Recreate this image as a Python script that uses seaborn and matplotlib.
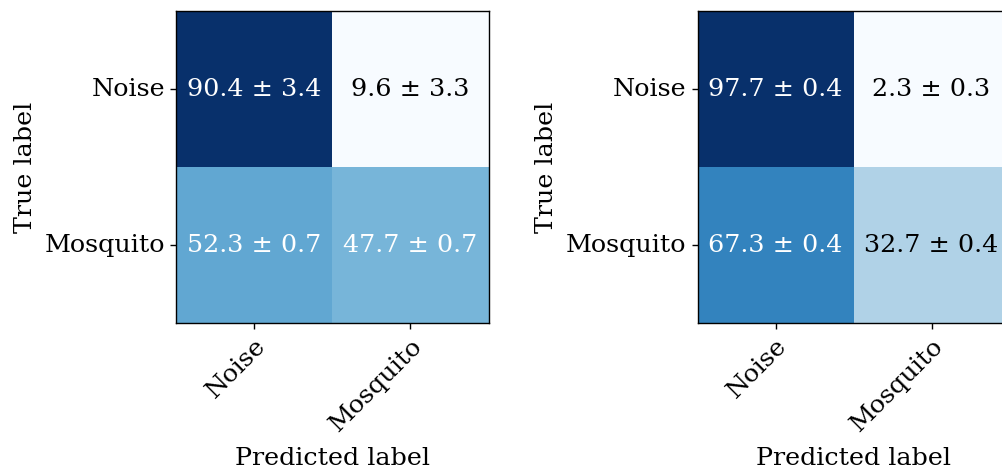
import numpy as np
import matplotlib
matplotlib.use("Agg")
import matplotlib.pyplot as plt
import seaborn as sns

plt.rcParams["font.family"] = ["DejaVu Serif"]
plt.rcParams["font.size"] = 18.3

classes = ["Noise", "Mosquito"]

# row = true label, column = predicted label (percent, mean and std)
left_mean = np.array([[90.4, 9.6], [52.3, 47.7]])
left_std = np.array([[3.4, 3.3], [0.7, 0.7]])
right_mean = np.array([[97.7, 2.3], [67.3, 32.7]])
right_std = np.array([[0.4, 0.3], [0.4, 0.4]])

FS = 18.3


def plot_cm(ax, mean, std):
    labels = np.array([[f"{m:.1f} ± {s:.1f}" for m, s in zip(rm, rs)]
                       for rm, rs in zip(mean, std)])
    sns.heatmap(mean, annot=False, cmap="Blues", cbar=False, ax=ax,
                square=True, linewidths=0)
    thresh = mean.max() / 2.0
    for i in range(mean.shape[0]):
        for j in range(mean.shape[1]):
            ax.text(j + 0.5, i + 0.5, labels[i, j], ha="center", va="center",
                    fontsize=FS,
                    color="white" if mean[i, j] > thresh else "black")
    for sp in ax.spines.values():
        sp.set_visible(True)
        sp.set_color("black")
        sp.set_linewidth(1.0)
    ax.set_xticks(np.arange(len(classes)) + 0.5)
    ax.set_yticks(np.arange(len(classes)) + 0.5)
    ax.set_xticklabels(classes, rotation=45, ha="right", rotation_mode="anchor")
    ax.set_yticklabels(classes, rotation=0)
    ax.tick_params(length=4.5, width=1.0, labelsize=FS)
    ax.set_xlabel("Predicted label", fontsize=FS, labelpad=8)
    ax.set_ylabel("True label", fontsize=FS, labelpad=6)


fig = plt.figure(figsize=(10.03, 4.68), dpi=100)
ax1 = fig.add_axes([0.1755, 0.3098, 0.312, 0.6667])
ax2 = fig.add_axes([0.695, 0.3098, 0.312, 0.6667])
plot_cm(ax1, left_mean, left_std)
plot_cm(ax2, right_mean, right_std)

fig.savefig("out.png", dpi=100)
